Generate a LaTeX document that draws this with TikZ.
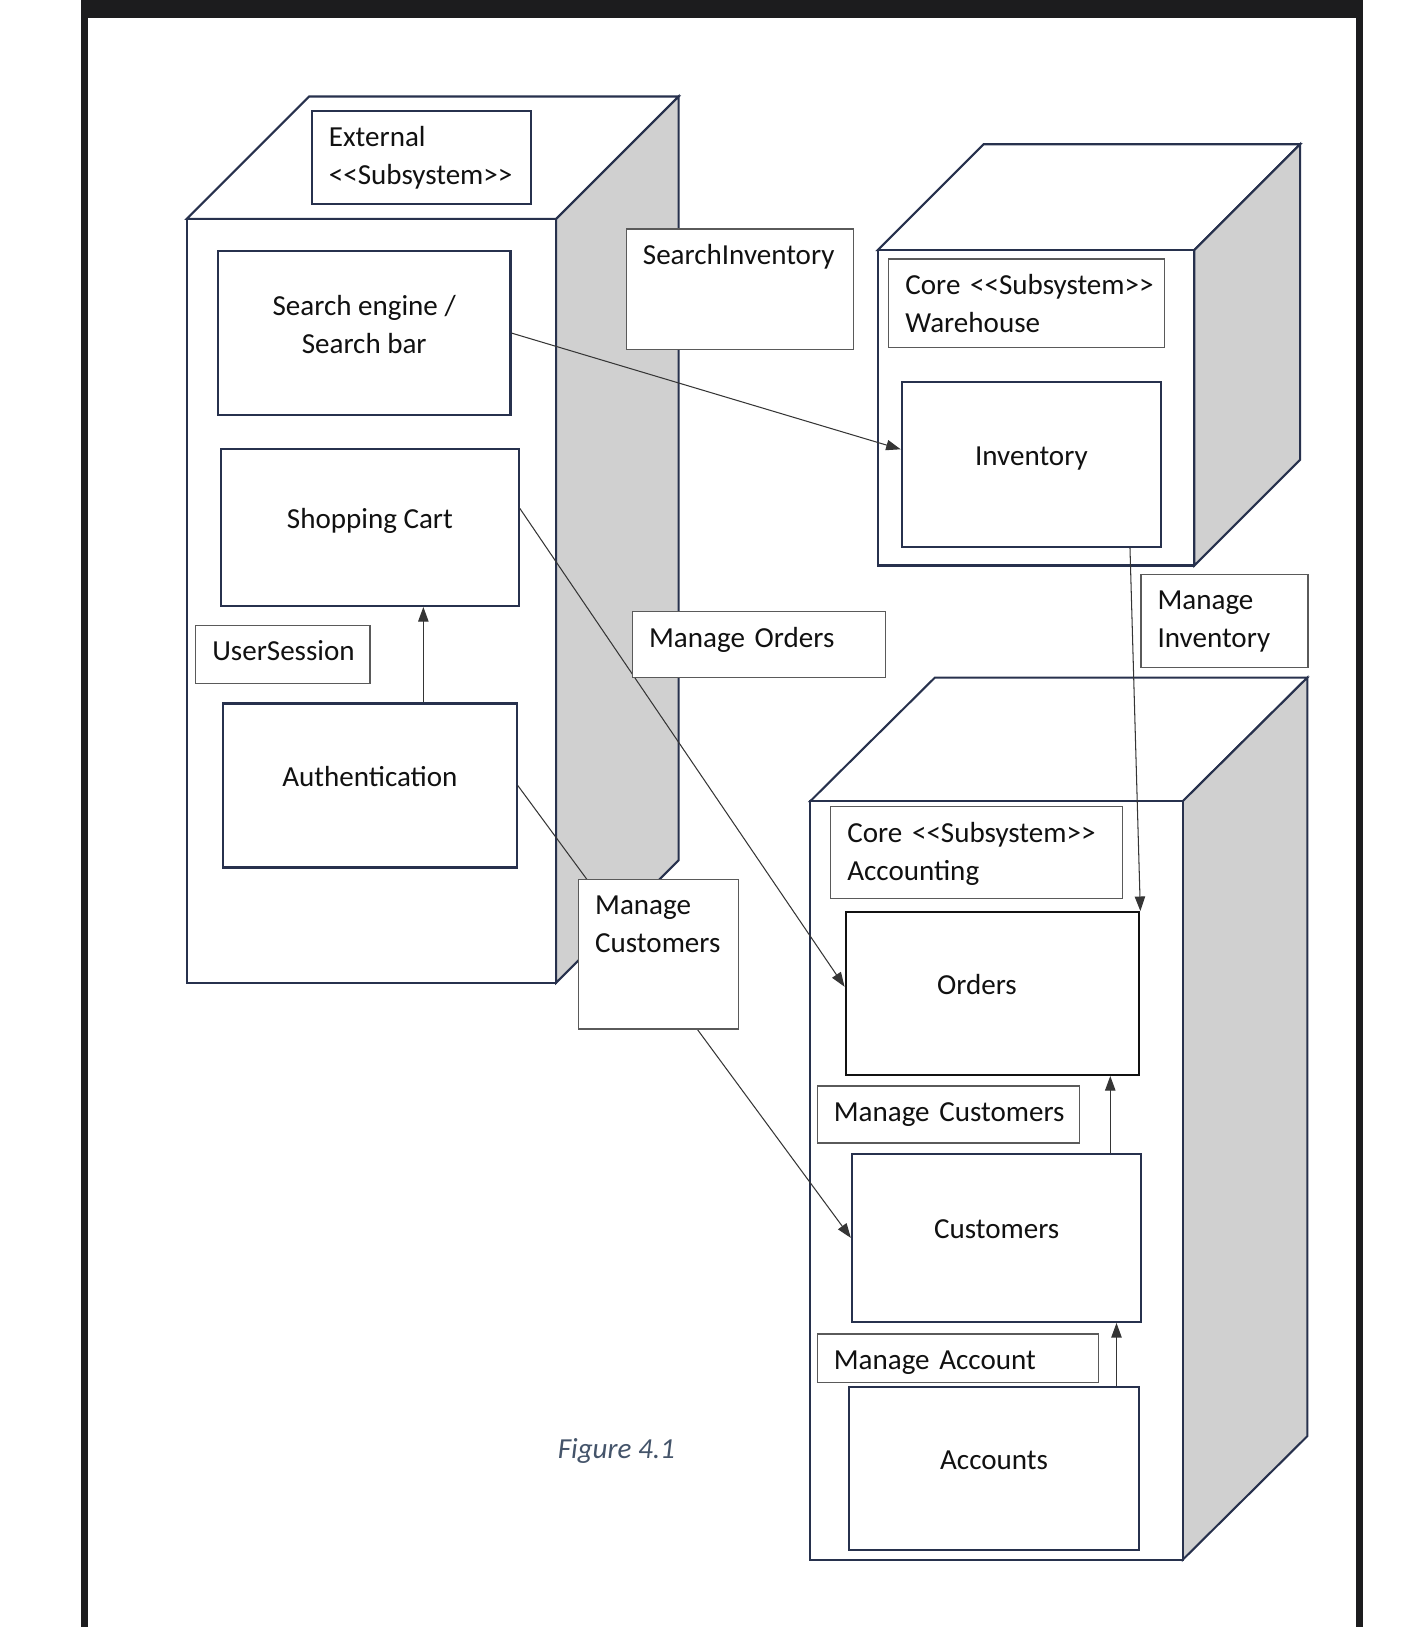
\documentclass[tikz,border=0pt]{standalone}
\usepackage{fontspec}
\setmainfont{Carlito}
\usetikzlibrary{arrows.meta, positioning}
\definecolor{navyline}{HTML}{27314D}
\definecolor{sidegray}{HTML}{D0D0D0}
\definecolor{tagline}{HTML}{5A5A5A}
\definecolor{framedark}{HTML}{1C1C1E}
\definecolor{captionblue}{HTML}{44546A}
\definecolor{inkblack}{HTML}{111111}

\tikzset{
  cubeface/.style={draw=navyline, line width=1pt},
  part/.style={draw=navyline, line width=1pt, fill=white, text=inkblack, align=center, inner sep=0pt, text height=5pt, text depth=4pt},
  labelbox/.style 2 args={draw=tagline, line width=0.6pt, fill=white, text=inkblack, anchor=north west, align=left, inner xsep=8pt, inner ysep=5pt, text height=12pt, text width=#1, text depth=#2},
  flow/.style={draw=inkblack!85, line width=0.5pt, -{Triangle[length=7pt, width=5pt]}},
}

\begin{document}
\begin{tikzpicture}[x=0.5pt, y=-0.5pt, font=\fontsize{14}{18.25}\selectfont]
      \useasboundingbox (0,0) rectangle (1352,1568);

      % Marco de la captura
      \fill[framedark] (78,0) rectangle (1314,17);
      \fill[framedark] (78,0) rectangle (85,1568);
      \fill[framedark] (1307,0) rectangle (1314,1568);

      % Cubo External
      \filldraw[cubeface, fill=white] (180,211) -- (298,93) -- (654,93) -- (536,211) -- cycle;
      \filldraw[cubeface, fill=sidegray] (536,211) -- (654,93) -- (654,829) -- (536,947) -- cycle;
      \filldraw[cubeface, fill=white] (180,211) rectangle (536,947);

      % Cubo Warehouse
      \filldraw[cubeface, fill=white] (846,241) -- (948,139) -- (1253,139) -- (1151,241) -- cycle;
      \filldraw[cubeface, fill=sidegray] (1151,241) -- (1253,139) -- (1253,443) -- (1151,545) -- cycle;
      \filldraw[cubeface, fill=white] (846,241) rectangle (1151,545);

      % Cubo Accounting
      \filldraw[cubeface, fill=white] (781,772) -- (901,653) -- (1260,653) -- (1140,772) -- cycle;
      \filldraw[cubeface, fill=sidegray] (1140,772) -- (1260,653) -- (1260,1384) -- (1140,1503) -- cycle;
      \filldraw[cubeface, fill=white] (781,772) rectangle (1140,1503);

      % Componentes
      \node[part, minimum width=141pt, minimum height=79pt, text height=22pt, text depth=2.5pt] (search) at (351,321) {Search engine /\\Search bar};
      \node[part, minimum width=143.5pt, minimum height=75.5pt] (cart) at (356.5,508.5) {Shopping Cart};
      \node[part, minimum width=141.5pt, minimum height=79pt] (auth) at (356.5,757) {Authentication};
      \node[part, minimum width=125pt, minimum height=79.5pt] (inventory) at (994,447.5) {Inventory};
      \node[part, draw=inkblack, minimum width=141.5pt, minimum height=78.5pt] (orders) at (956.5,957.5) {Orders\hspace*{15pt}};
      \node[part, minimum width=139.5pt, minimum height=81pt] (customers) at (960.5,1193) {Customers};
      \node[part, minimum width=140pt, minimum height=78.5pt] (accounts) at (958,1415.5) {Accounts};

      % Conectores
      \draw[flow] (search.east) -- ([yshift=7.25pt]inventory.west);
      \draw[flow] ([yshift=9.25pt]cart.east) -- ([yshift=3.25pt]orders.west);
      \draw[flow] (auth.east) -- (customers.west);
      \draw[flow] ([xshift=25.75pt]auth.north) -- ([xshift=25.75pt]auth.north |- cart.south);
      \draw[flow] ([xshift=47.5pt]inventory.south) -- (orders.north east);
      \draw[flow] ([xshift=54.75pt]customers.north) -- ([xshift=54.75pt]customers.north |- orders.south);
      \draw[flow] ([xshift=59pt]accounts.north) -- ([xshift=59pt]accounts.north |- customers.south);

      % Etiquetas
      \node[labelbox={89.5pt}{23pt}, draw=navyline, line width=1pt] (external) at (300,106) {External\\\mbox{<\kern0pt<Subsystem>\kern0pt>}};
      \node[labelbox={93.5pt}{36pt}] (searchinv) at (603,220) {\mbox{SearchInventory}};
      \node[labelbox={117pt}{20.5pt}] (warehouse) at (856,249) {\mbox{Core <\kern0pt<Subsystem>\kern0pt>}\\Warehouse};
      \node[labelbox={68pt}{6pt}] (session) at (188,602) {\mbox{UserSession}};
      \node[labelbox={106pt}{9.5pt}] (manageorders) at (609,589) {\mbox{Manage Orders}};
      \node[labelbox={64.5pt}{23pt}] (manageinv) at (1099,553) {Manage\\Inventory};
      \node[labelbox={61pt}{50pt}] (managecust) at (557,847) {Manage\\Customers};
      \node[labelbox={124.5pt}{22pt}] (accounting) at (800,777) {\mbox{Core <\kern0pt<Subsystem>\kern0pt>}\\Accounting};
      \node[labelbox={110.5pt}{5.5pt}] (managecustb) at (787,1046) {\mbox{Manage Customers}};
      \node[labelbox={119.5pt}{1.5pt}] (manageacc) at (787,1285) {\mbox{Manage Account}};

      % Pie de figura
      \node[font=\fontsize{14}{18.25}\selectfont\itshape, text=captionblue] (caption) at (594,1398) {Figure 4.1};
\end{tikzpicture}
\end{document}
